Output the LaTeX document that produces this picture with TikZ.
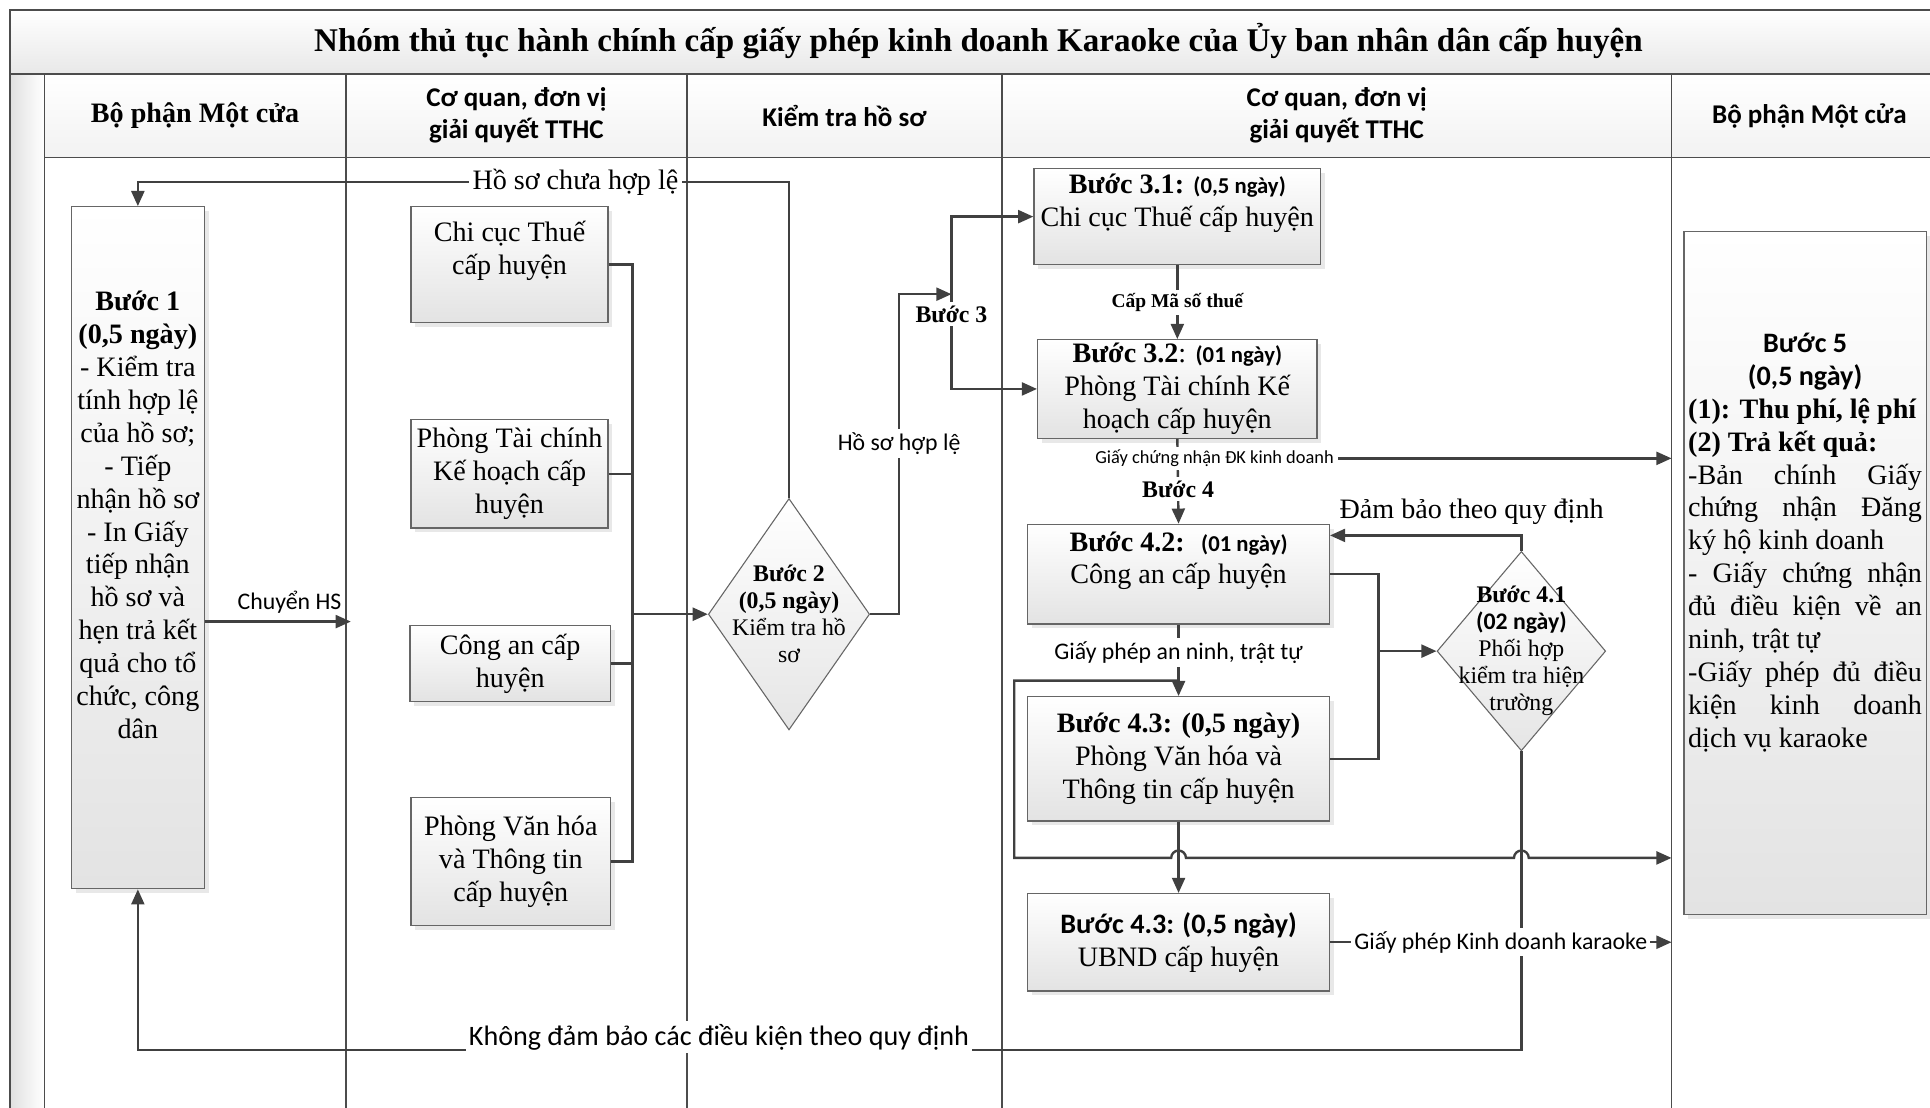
\documentclass[tikz,border=0pt]{standalone}
\usepackage{fontspec}
\setmainfont{Liberation Serif}
\setsansfont{Carlito}
\usepackage{tikz}
\usetikzlibrary{arrows.meta,positioning,shapes.geometric,calc,shadows}

\begin{document}
\begin{tikzpicture}[
    line/.style={draw=black!75, line width=1.1pt},
    arr/.style={line, -{Triangle[length=7pt,width=6pt]}},
    lane/.style={draw=black!70, line width=0.7pt},
    box/.style={draw=black!60, line width=0.6pt, top color=white, bottom color=black!11,
        drop shadow={shadow xshift=2pt, shadow yshift=-2pt, fill=black!18},
        align=center, inner sep=1pt, font=\fontsize{13}{15.2}\selectfont},
    dia/.style={diamond, draw=black!60, line width=0.5pt, top color=white, bottom color=black!10, inner sep=0pt},
    lbl/.style={fill=white, inner sep=1.5pt},
    hdr/.style={align=center, font=\sffamily\bfseries\fontsize{12.5}{14.8}\selectfont},
]
    \useasboundingbox (0,0) rectangle (31.36,18);
    \clip (0,0) rectangle (31.36,18);

    % Frame and swimlanes
    \shade[left color=black!12, right color=white] (0.16,-1) rectangle (0.72,16.8);
    \shade[top color=white, bottom color=black!9] (0.16,16.8) rectangle (31.6,17.84);
    \shade[top color=white, bottom color=black!5] (0.72,15.44) rectangle (31.6,16.8);
    \draw[lane] (0.16,-1) -- (0.16,17.84) -- (31.6,17.84);
    \draw[lane] (0.16,16.8) -- (31.6,16.8);
    \draw[lane] (0.72,15.44) -- (31.6,15.44);
    \foreach \x in {0.72,5.62,11.16,16.28,27.16}
        \draw[lane] (\x,-1) -- (\x,16.8);

    \node[font=\bfseries\fontsize{15.3}{18}\selectfont] (title) at (15.9,17.34)
        {Nhóm thủ tục hành chính cấp giấy phép kinh doanh Karaoke của Ủy ban nhân dân cấp huyện};

    % Lane headers
    \node[font=\bfseries\fontsize{13}{15}\selectfont] (h1) at (3.17,16.12) {Bộ phận Một cửa};
    \node[hdr] (h2) at (8.39,16.12) {Cơ quan, đơn vị\\giải quyết TTHC};
    \node[hdr] (h3) at (13.72,16.12) {Kiểm tra hồ sơ};
    \node[hdr] (h4) at (21.72,16.12) {Cơ quan, đơn vị\\giải quyết TTHC};
    \node[hdr] (h5) at (29.4,16.12) {Bộ phận Một cửa};

    % Step 1
    \node[box, minimum width=2.16cm, minimum height=11.08cm] (b1) at (2.24,9.10)
        {\textbf{Bước 1}\\\textbf{(0,5 ngày)}\\- Kiểm tra\\tính hợp lệ\\của hồ sơ;\\- Tiếp\\nhận hồ sơ\\- In Giấy\\tiếp nhận\\hồ sơ và\\hẹn trả kết\\quả cho tổ\\chức, công\\dân\\ \mbox{}\\ \mbox{}};

    % Agencies
    \node[box, minimum width=3.2cm, minimum height=1.88cm] (thue) at (8.28,13.70) {Chi cục Thuế\\cấp huyện\\ \mbox{}};
    \node[box, minimum width=3.2cm, minimum height=1.76cm] (tc) at (8.28,10.30) {Phòng Tài chính\\Kế hoạch cấp\\huyện};
    \node[box, minimum width=3.26cm, minimum height=1.24cm] (ca) at (8.29,7.22) {Công an cấp\\huyện};
    \node[box, minimum width=3.24cm, minimum height=2.08cm] (vh) at (8.30,4.00) {Phòng Văn hóa\\và Thông tin\\cấp huyện};

    % Step 2
    \node[dia, minimum width=2.62cm, minimum height=3.76cm] (b2) at (12.82,8.02) {};
    \node[align=center, font=\fontsize{11}{12.5}\selectfont] (b2txt) at (b2)
        {\textbf{Bước 2}\\\textbf{(0,5 ngày)}\\Kiểm tra hồ\\sơ};

    % Steps 3 and 4
    \node[box, minimum width=4.66cm, minimum height=1.56cm] (b31) at (19.13,14.48)
        {\textbf{Bước 3.1:} {\sffamily\bfseries\fontsize{10.5}{15.2}\selectfont (0,5 ngày)}\\Chi cục Thuế cấp huyện\\ \mbox{}};
    \node[box, minimum width=4.54cm, minimum height=1.60cm] (b32) at (19.13,11.68)
        {\textbf{Bước 3.2}: {\sffamily\bfseries\fontsize{10.5}{15.2}\selectfont (01 ngày)}\\Phòng Tài chính Kế\\hoạch cấp huyện};
    \node[box, minimum width=4.90cm, minimum height=1.62cm] (b42) at (19.15,8.67)
        {\textbf{Bước 4.2:}~ {\sffamily\bfseries\fontsize{10.5}{15.2}\selectfont (01 ngày)}\\Công an cấp huyện\\ \mbox{}};
    \node[box, minimum width=4.90cm, minimum height=2.02cm] (b43) at (19.15,5.67)
        {\textbf{Bước 4.3: (0,5 ngày)}\\Phòng Văn hóa và\\Thông tin cấp huyện};
    \node[box, minimum width=4.90cm, minimum height=1.58cm] (b44) at (19.15,2.69)
        {{\sffamily\bfseries Bước 4.3: (0,5 ngày)}\\UBND cấp huyện};

    \node[dia, minimum width=2.74cm, minimum height=3.24cm] (b41) at (24.72,7.42) {};
    \node[align=center, font=\fontsize{11}{12.5}\selectfont] (b41txt) at (b41)
        {\textbf{Bước 4.1}\\{\sffamily\bfseries (02 ngày)}\\Phối hợp\\kiểm tra hiện\\trường};

    % Step 5
    \node[box, minimum width=3.94cm, minimum height=11.10cm, text width=3.8cm, align=justify] (b5) at (29.33,8.69)
        {\null\hfill{\sffamily\bfseries Bước 5}\hfill\null\\\null\hfill{\sffamily\bfseries (0,5 ngày)}\hfill\null\\\textbf{(1): Thu phí, lệ phí}\\\textbf{(2) Trả kết quả:}\\-Bản chính Giấy\linebreak chứng nhận Đăng\linebreak ký hộ kinh doanh\\- Giấy chứng nhận\linebreak đủ điều kiện về an\linebreak ninh, trật tự\\-Giấy phép đủ điều\linebreak kiện kinh doanh\linebreak dịch vụ karaoke\\ \mbox{}\\ \mbox{}};

    % Turning points
    \coordinate (chs) at (5.70,7.90);
    \coordinate (mrg) at (10.28,8.02);
    \coordinate (r1) at (2.24,15.04);
    \coordinate (s3) at (15.46,13.22);
    \coordinate (l5) at (27.16,0);
    \coordinate (m4) at (22.4,7.42);
    \coordinate (d4) at ($(b42.east)+(0,0.63)$);
    \coordinate (j4) at (19.15,6.94);
    \coordinate (r4) at (2.24,0.94);

    % Connectors
    \draw[arr] (b1.east |- chs) -- (chs) node[pos=0.58, above, font=\sffamily\fontsize{11}{13}\selectfont] (lchs) {Chuyển HS};

    \draw[line] (thue.east) -| (mrg);
    \draw[line] (tc.east) -| (mrg);
    \draw[line] (ca.east) -| (mrg);
    \draw[line] (vh.east) -| (mrg);
    \draw[arr] (mrg) -- (b2.west);

    \draw[arr] (b2.north) |- node[pos=0.664, lbl, font=\fontsize{13}{15}\selectfont] (lnok) {Hồ sơ chưa hợp lệ} (r1) -- (b1.north);
    \draw[arr] (b2.east) -- ++(0.47,0) |- node[pos=0.267, lbl, font=\sffamily\fontsize{11}{13}\selectfont] (lok) {Hồ sơ hợp lệ} (s3);
    \draw[arr] (s3) |- (b31.west);
    \draw[arr] (s3) |- node[pos=0.104, lbl, font=\bfseries\fontsize{11}{13}\selectfont] (lb3) {Bước 3} (b32.west);

    \draw[arr] (b31.south) -- node[lbl, font=\bfseries\fontsize{9}{11}\selectfont] (lmst) {Cấp Mã số thuế} (b32.north);
    \draw[arr] (b32.south) -- node[pos=0.23, xshift=0.6cm, lbl, font=\sffamily\fontsize{8.5}{10}\selectfont] (lgcn) {Giấy chứng nhận ĐK kinh doanh}
        node[pos=0.59, lbl, font=\bfseries\fontsize{11}{13}\selectfont] (lb4) {Bước 4} (b42.north);
    \draw[arr] (lgcn.east) -- (lgcn.east -| l5);

    \draw[arr] (b42.south) -- node[pos=0.39, lbl, font=\sffamily\fontsize{11}{13}\selectfont] (lanv) {Giấy phép an ninh, trật tự} (b43.north);
    \draw[line] (b42.east) -| (m4);
    \draw[line] (b43.east) -| (m4);
    \draw[arr] (m4) -- (b41.west);
    \draw[arr] (b41.north) |- node[pos=0.63, above, yshift=1pt, font=\fontsize{13}{15}\selectfont] (lok4) {Đảm bảo theo quy định} (d4);

    \draw[arr] (b43.south) -- (b44.north);
    \draw[arr] (b41.south) |- node[pos=0.79, above=-2pt, lbl, font=\sffamily\fontsize{13}{15}\selectfont] (lnot) {Không đảm bảo các điều kiện theo quy định} (r4) -- (b1.south);
    \draw[arr] (j4) -- (16.48,6.94) -- (16.48,4.06) -- (19.03,4.06) arc(180:0:0.12) -- (24.60,4.06) arc(180:0:0.12) -- (27.16,4.06);
    \draw[arr] (b44.east) -- (b44.east -| l5) node[midway, lbl, font=\sffamily\fontsize{11}{13}\selectfont] (lgpkd) {Giấy phép Kinh doanh karaoke};
\end{tikzpicture}
\end{document}
